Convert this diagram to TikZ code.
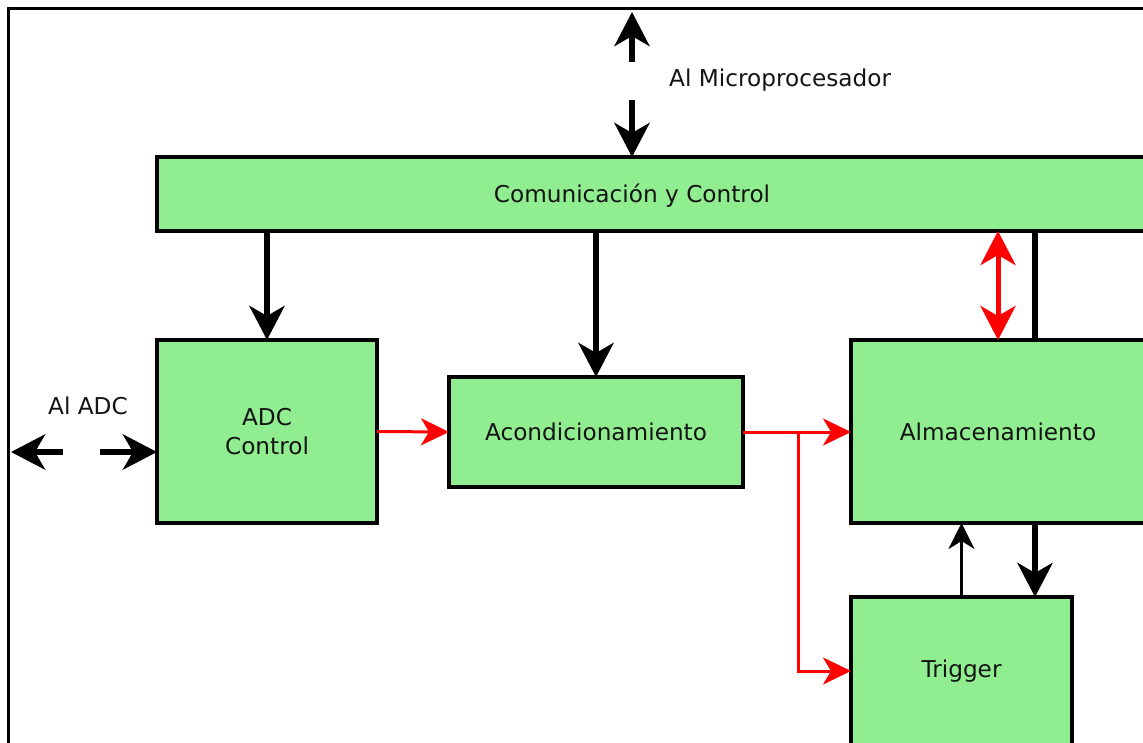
\documentclass[tikz,border=0pt]{standalone}
\usepackage{fontspec}
\setmainfont{DejaVu Sans}
\usetikzlibrary{arrows.meta}
\definecolor{boxgreen}{RGB}{144,238,144}
\definecolor{txtcol}{RGB}{20,20,20}
\tikzset{
  blk/.style={draw=black, line width=3.5pt, fill=boxgreen, inner sep=0pt, outer sep=0pt,
    font=\fontsize{23.2}{29}\selectfont, text=txtcol, align=center},
  lbl/.style={inner sep=0pt, font=\fontsize{23.2}{29}\selectfont, text=txtcol},
  bigarrow/.style={draw=black, line width=6.5pt, -{Stealth[length=34pt,width=35pt,inset=10pt]}},
  thinarrow/.style={draw=black, line width=3pt, -{Stealth[length=26pt,width=26pt,inset=8pt]}},
  redarrow/.style={draw=red, line width=3pt, -{Stealth[length=28pt,width=27pt,inset=8pt]}},
  reddouble/.style={draw=red, line width=5pt, {Stealth[length=34pt,width=35pt,inset=10pt]}-{Stealth[length=34pt,width=35pt,inset=10pt]}},
  plainline/.style={draw=black, line width=6.5pt},
}
\begin{document}
\begin{tikzpicture}[x=1pt,y=-1pt]
\useasboundingbox (0,0) rectangle (1143,742);
\clip (0,0) rectangle (1143,742);
% frame
\draw[line width=3pt] (8,760) -- (8,8) -- (1160,8);

% boxes
\node[blk, minimum width=1010pt, minimum height=74pt, anchor=west] (com) at (157,194) {};
\node[lbl, text height=17pt, text depth=0pt] (comtxt) at (632,194) {Comunicación y Control};
\node[blk, minimum width=220pt, minimum height=183pt] (adc) at (267,431.5) {ADC\\Control};
\node[blk, minimum width=294pt, minimum height=110pt] (acond) at (596,432) {Acondicionamiento};
\node[blk, minimum width=294pt, minimum height=183pt] (alm) at (998,431.5) {Almacenamiento};
\node[blk, minimum width=221pt, minimum height=148pt] (trig) at (961.5,671) {Trigger};

% labels
\node[lbl, anchor=base west] (mplbl) at (669,86) {Al Microprocesador};
\node[lbl, anchor=base] (adclbl) at (88,414) {Al ADC};

% helper coordinates
\coordinate (mpup1) at (632,62);
\coordinate (mpup2) at (632,12);
\coordinate (mpdn) at (632,100);
\coordinate (adcl1) at (63,452);
\coordinate (adcl2) at (11,452);
\coordinate (adcr) at (100,452);
\coordinate (xr) at (1035,0);
\coordinate (br) at (798,432);

% microprocessor arrows
\draw[bigarrow] (mpup1) -- (mpup2);
\draw[bigarrow] (mpdn) -- (com.north -| mpdn);

% ADC external arrows
\draw[bigarrow] (adcl1) -- (adcl2);
\draw[bigarrow] (adcr) -- (adc.west |- adcr);

% from com
\draw[bigarrow] (com.south -| adc.north) -- (adc.north);
\draw[bigarrow] (com.south -| acond.north) -- (acond.north);
\draw[reddouble] (com.south -| alm.north) -- (alm.north);
\draw[plainline] (com.south -| xr) -- (alm.north -| xr);

% red data flow
\draw[redarrow] (adc.east) -- (acond.west);
\draw[redarrow] (acond.east |- br) -- (alm.west |- br);
\draw[redarrow] (br) |- (trig.west);

% trigger <-> almacenamiento
\draw[thinarrow] (trig.north) -- (alm.south -| trig.north);
\draw[bigarrow] (alm.south -| xr) -- (trig.north -| xr);
\end{tikzpicture}
\end{document}
